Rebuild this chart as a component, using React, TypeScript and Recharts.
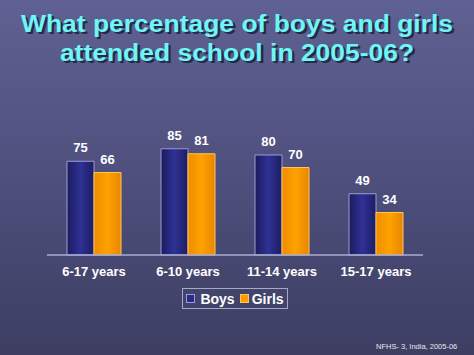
import React from 'react';
import { BarChart, Bar, XAxis, YAxis, LabelList } from 'recharts';

const ageGroups = ['6-17 years', '6-10 years', '11-14 years', '15-17 years'];
const boys = [75, 85, 80, 49];
const girls = [66, 81, 70, 34];

const data = ageGroups.map((group, i) => ({ group, boys: boys[i], girls: girls[i] }));

const font = '"Liberation Sans", Arial, sans-serif';

const App: React.FC = () => {
    return (
        <div style={{
            position: 'absolute', left: 0, top: 0, width: 474, height: 355, overflow: 'hidden',
            background: 'linear-gradient(180deg, #5f6192 0%, #50517f 45%, #3d3e62 100%)',
            fontFamily: font
        }}>
            {/* title, stretched wide like the slide */}
            <div style={{
                position: 'absolute', left: 0, top: 10, width: 474, textAlign: 'center',
                color: '#6ef5f5', fontWeight: 'bold', fontSize: 23, lineHeight: '29px',
                textShadow: '2px 2px 0 #262848',
                transform: 'scaleX(1.15)', transformOrigin: '237px 0'
            }}>
                What percentage of boys and girls<br />attended school in 2005-06?
            </div>

            <BarChart
                width={474}
                height={355}
                data={data}
                margin={{ top: 130, right: 51, left: 47, bottom: 70 }}
                barCategoryGap={20}
                barGap={0}
            >
                <defs>
                    <linearGradient id="boysFill" x1="0" y1="0" x2="1" y2="0">
                        <stop offset="0%" stopColor="#1b1c5c" />
                        <stop offset="50%" stopColor="#2f3196" />
                        <stop offset="100%" stopColor="#1c1d60" />
                    </linearGradient>
                    <linearGradient id="girlsFill" x1="0" y1="0" x2="1" y2="0">
                        <stop offset="0%" stopColor="#ef8c00" />
                        <stop offset="50%" stopColor="#ffa200" />
                        <stop offset="100%" stopColor="#e88600" />
                    </linearGradient>
                </defs>
                <XAxis
                    dataKey="group"
                    height={30}
                    tickLine={false}
                    axisLine={{ stroke: '#a9abcf', strokeWidth: 1.5 }}
                    tick={{ fill: '#ffffff', fontSize: 13, fontWeight: 'bold', fontFamily: font }}
                    tickMargin={6}
                />
                <YAxis hide domain={[0, 100]} />
                <Bar dataKey="boys" fill="url(#boysFill)" stroke="#9c9dd4" strokeWidth={1} isAnimationActive={false}>
                    <LabelList dataKey="boys" position="top" offset={9} fill="#ffffff" fontSize={13} fontWeight="bold" fontFamily={font} />
                </Bar>
                <Bar dataKey="girls" fill="url(#girlsFill)" stroke="#ffc65a" strokeWidth={1} isAnimationActive={false}>
                    <LabelList dataKey="girls" position="top" offset={9} fill="#ffffff" fontSize={13} fontWeight="bold" fontFamily={font} />
                </Bar>
            </BarChart>

            {/* legend */}
            <div style={{
                position: 'absolute', left: 182, top: 288, width: 104, height: 19,
                border: '1px solid #a8a9c6', display: 'flex', alignItems: 'center',
                justifyContent: 'center', color: '#ffffff', fontWeight: 'bold', fontSize: 14
            }}>
                <span style={{ display: 'inline-block', width: 7, height: 7, background: '#2a2c8a', border: '1px solid #9c9dd4', marginRight: 5 }} />
                <span style={{ marginRight: 5 }}>Boys</span>
                <span style={{ display: 'inline-block', width: 7, height: 7, background: '#ff9d00', border: '1px solid #ffc65a', marginRight: 3 }} />
                <span>Girls</span>
            </div>

            {/* source */}
            <div style={{
                position: 'absolute', left: 376, top: 342, color: '#e8e8f0', fontSize: 7.5
            }}>
                NFHS- 3, India, 2005-06
            </div>
        </div>
    );
};

export default App;
